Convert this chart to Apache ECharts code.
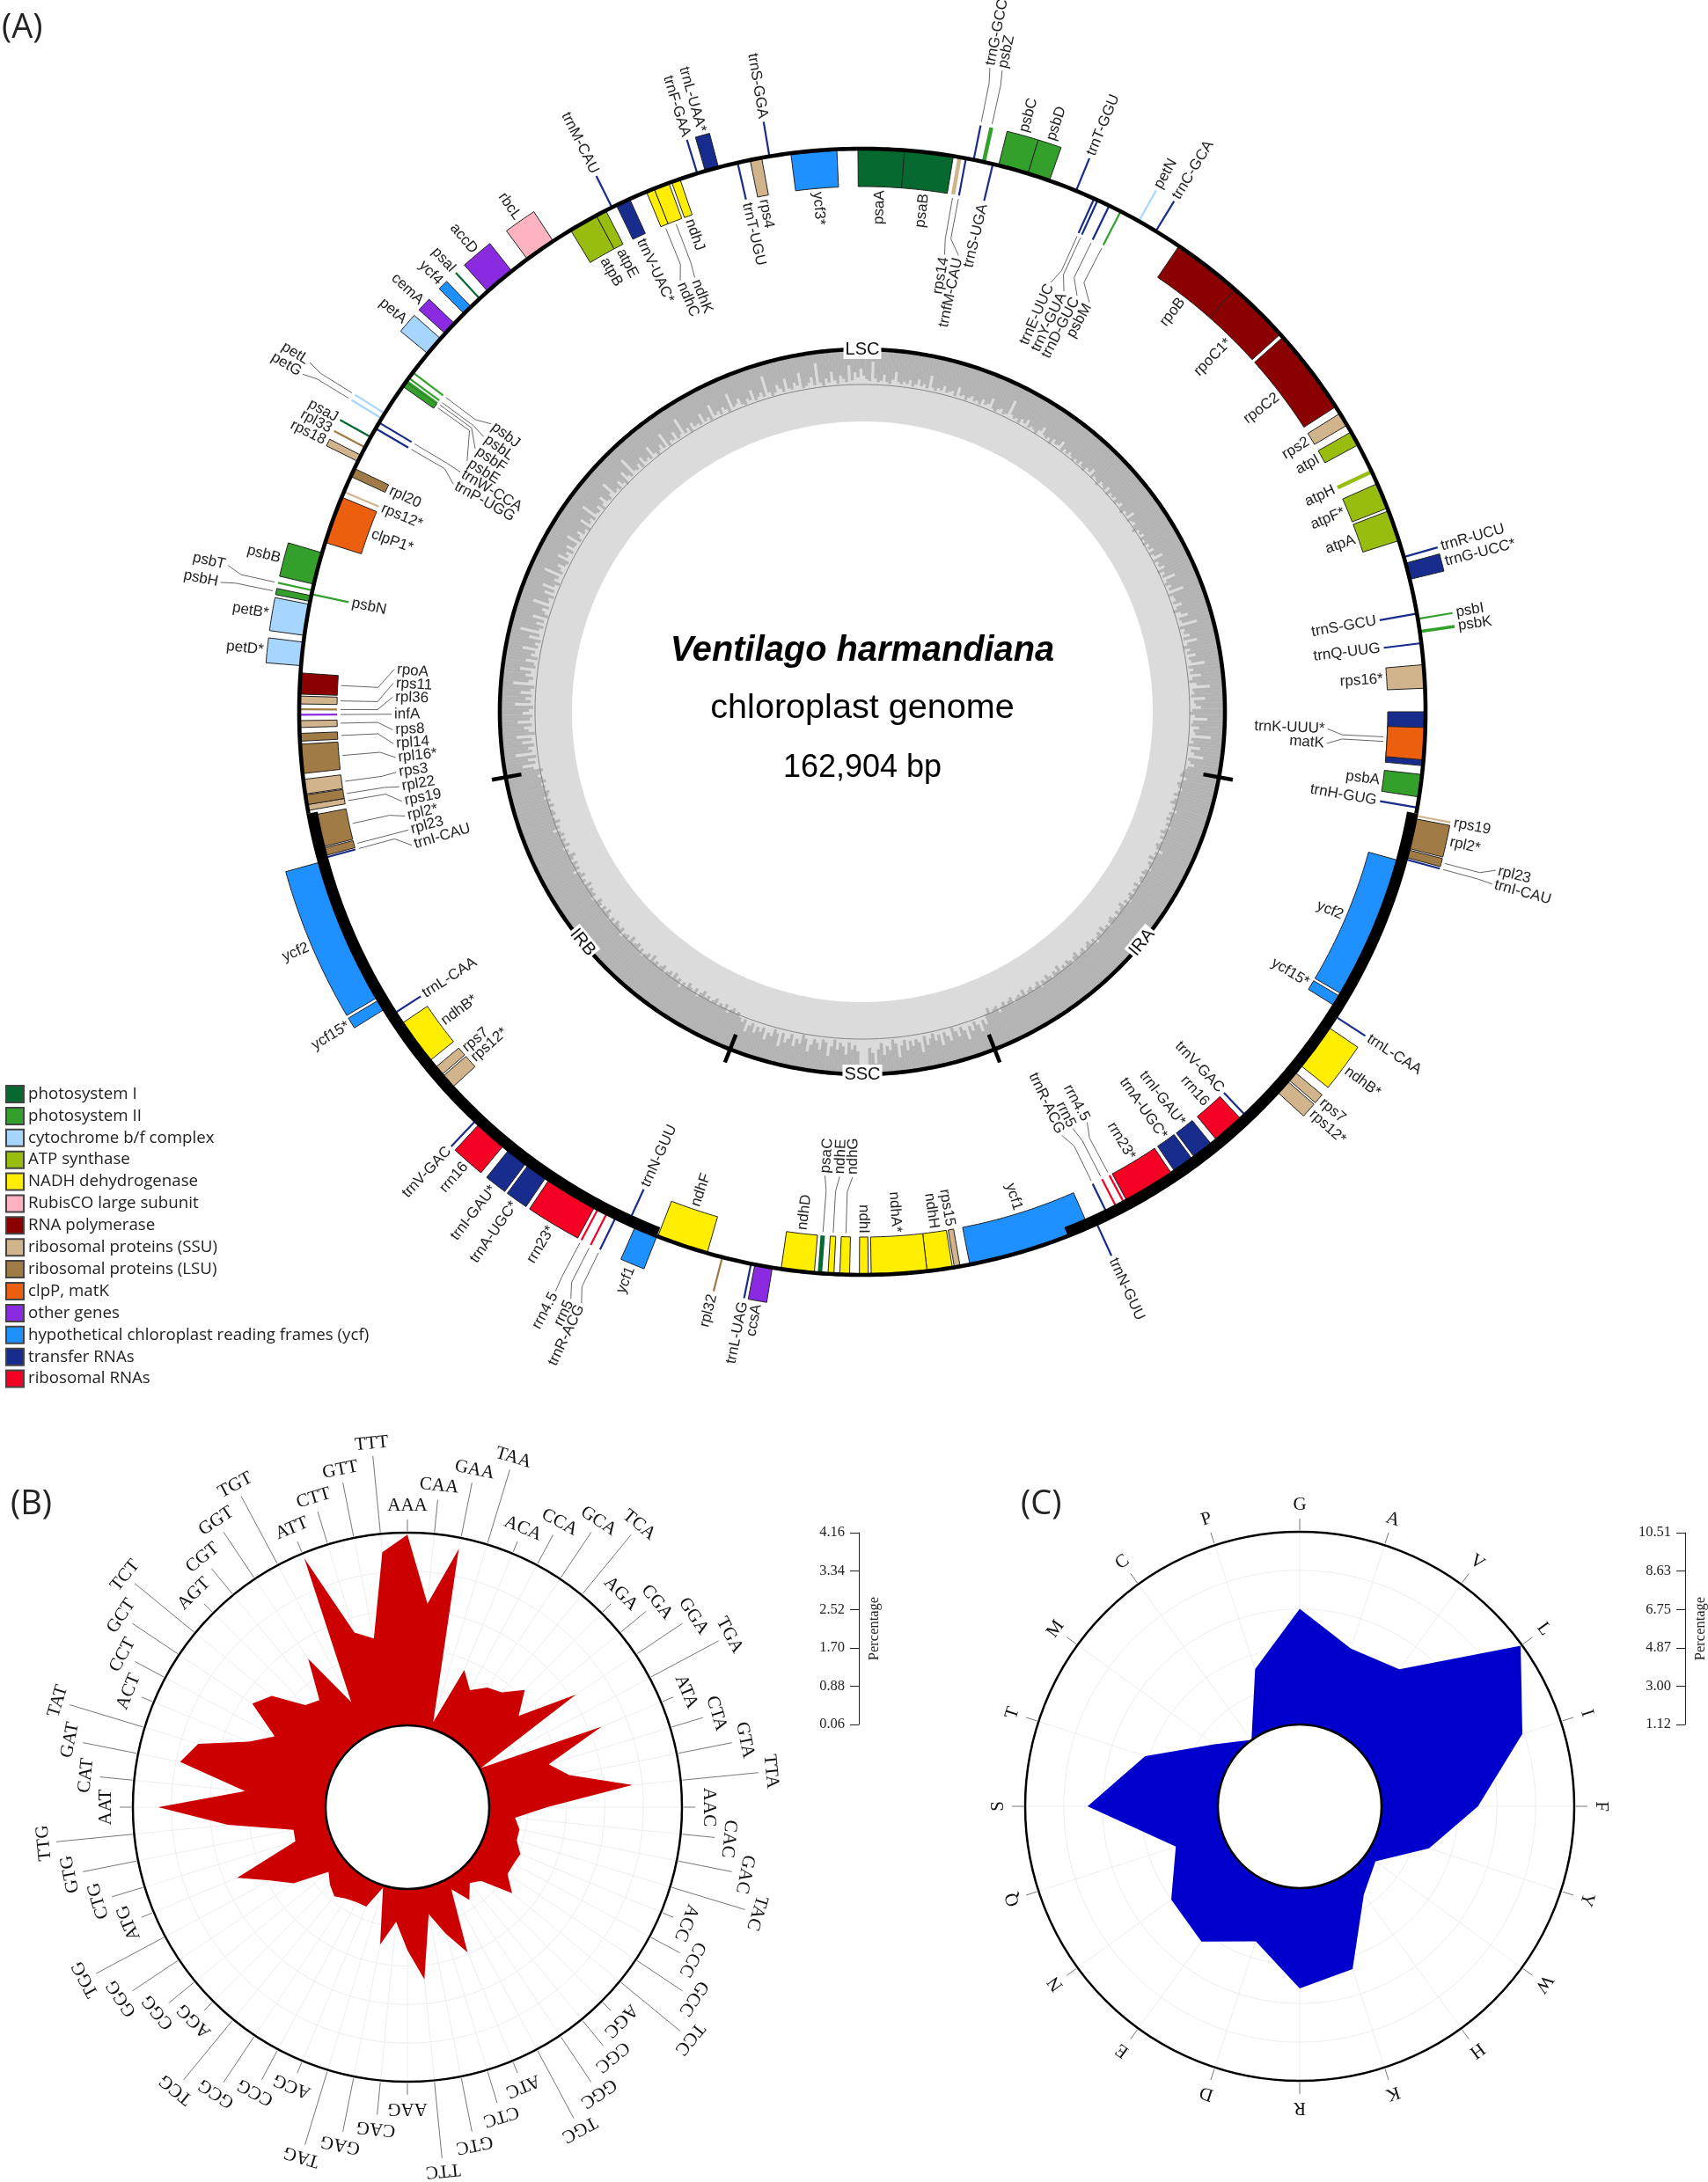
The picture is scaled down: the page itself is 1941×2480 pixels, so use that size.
<!DOCTYPE html>
<html><head><meta charset="utf-8"><style>html,body{margin:0;padding:0;background:#fff}#c{width:1941px;height:2480px}</style>
<script src="https://cdn.jsdelivr.net/npm/echarts@6/dist/echarts.min.js"></script></head><body><div id="c"></div>
<script>
/* ---------- Panel A: genes as [name, start, end, strand] on the map (degrees clockwise from top) ---------- */
const photosystemI=[['psaA',-0.45,4.3,-1],['psaB',4.3,9.3,-1],['psaC',184.05,184.6,-1],['psaJ',299.2,299.2,1],['psaI',317.2,317.2,1]];
const photosystemII=[['psbZ',12.2,12.7,1],['psbC',14,17.1,1],['psbD',17.1,19.4,1],['psbM',27.3,27.3,-1],['psbI',80.5,80.5,1],['psbK',81.6,82,1],['psbA',96.4,98.7,-1],['psbH',281.3,281.9,1],['psbN',282.05,282.05,-1],['psbT',282.45,282.45,1],['psbB',283.1,286.4,1],['psbE',305.3,305.9,-1],['psbF',306,306,-1],['psbL',306.35,306.35,-1],['psbJ',307.05,307.05,-1]];
const cytochrome=[['petN',29.4,29.4,1],['petD*',274.7,277.1,1],['petB*',277.8,281,1],['petG',301.4,301.4,1],['petL',302,302,1],['petA',309.5,311.5,1]];
const atpSynthase=[['atpI',60.2,61.7,-1],['atpH',64.5,65,-1],['atpF*',66.1,68.8,-1],['atpA',69.1,72.3,-1],['atpB',328.8,331.8,-1],['atpE',331.8,332.9,-1]];
const nadh=[['ndhB*',124.1,128.9,1],['ndhH',170.8,173.4,-1],['ndhA*',173.4,179.1,-1],['ndhI',179.4,180.3,-1],['ndhG',181.3,182.3,-1],['ndhE',182.9,183.5,-1],['ndhD',184.9,188.3,-1],['ndhF',196,201.3,-1],['ndhB*',231.1,235.9,-1],['ndhC',337.45,338.3,-1],['ndhK',338.3,339.9,-1],['ndhJ',340.2,341.1,-1]];
const rubisco=[['rbcL',323.5,326.7,1]];
const rnaPolymerase=[['rpoB',34.2,41.4,-1],['rpoC1*',41.4,47.9,-1],['rpoC2',48.3,57.2,-1],['rpoA',271.8,273.96,-1]];
const ribosomalSSU=[['rps14',9.7,10.2,-1],['rps2',58,59.4,-1],['rps16*',85.2,87.6,-1],['rps19',100.65,100.65,1],['rps7',129.8,130.8,1],['rps12*',131,132.5,1],['rps15',170,170.6,-1],['rps12*',227.5,229,-1],['rps7',229.2,230.2,-1],['rps19',259.9,260.5,-1],['rps3',261.6,263.1,-1],['rps8',268.4,269.1,-1],['rps11',270.8,271.6,-1],['rps12*',293,293,-1],['rps18',296.4,297.1,1],['rps4',348.5,349.7,-1]];
const ribosomalLSU=[['rpl2*',100.95,104.05,1],['rpl23',104.2,105,1],['rpl32',194.4,194.4,1],['rpl23',255,255.8,-1],['rpl2*',255.95,259.35,-1],['rpl22',260.5,261.5,-1],['rpl16*',263.7,266.7,-1],['rpl14',267,267.8,-1],['rpl36',270.25,270.25,-1],['rpl20',294.7,295.6,-1],['rpl33',298,298,1]];
const clpMatK=[['matK',91.6,94.9,-1],['clpP1*',287.5,292.4,-1]];
const otherGenes=[['ccsA',189.2,191,1],['infA',269.7,269.7,-1],['cemA',312.2,313.6,1],['accD',318.3,321.5,1]];
const ycfGenes=[['ycf2',105.5,120.5,-1],['ycf15*',120.8,121.9,-1],['ycf1',156.3,169,-1],['ycf1',201.4,203.8,1],['ycf15*',238.1,239.2,1],['ycf2',239.5,254.5,1],['ycf4',315,316,1],['ycf3*',352.7,357.4,-1]];
const transferRNAs=[['trnfM-CAU',10.6,10.6,-1],['trnG-GCC',11.4,11.4,1],['trnS-UGA',13.4,13.4,-1],['trnT-GGU',22.3,22.3,1],['trnE-UUC',24.3,24.3,-1],['trnY-GUA',24.7,24.7,-1],['trnD-GUC',26,26,-1],['trnC-GCA',31.4,31.4,1],['trnR-UCU',74.05,74.05,1],['trnG-UCC*',74.7,76.4,1],['trnS-GCU',79.95,79.95,-1],['trnQ-UUG',83,83,-1],['trnK-UUU*',90,95.5,-1],['trnH-GUG',99.8,99.8,-1],['trnI-CAU',105.2,105.2,1],['trnL-CAA',122.8,122.8,1],['trnV-GAC',136.5,136.5,-1],['trnI-GAU*',141.1,143.3,-1],['trnA-UGC*',143.6,145.8,-1],['trnR-ACG',154,154,-1],['trnN-GUU',155.4,155.4,1],['trnL-UAG',191.4,191.4,1],['trnN-GUU',204.6,204.6,-1],['trnR-ACG',206,206,1],['trnA-UGC*',214.2,216.4,1],['trnI-GAU*',216.7,218.9,1],['trnV-GAC',223.4,223.4,1],['trnL-CAA',237.2,237.2,-1],['trnI-CAU',254.8,254.8,-1],['trnP-UGG',300.2,300.2,-1],['trnW-CCA',300.9,300.9,-1],['trnM-CAU',333.6,333.6,1],['trnV-UAC*',334.1,335.6,-1],['trnF-GAA',342.95,342.95,1],['trnL-UAA*',343.8,345.2,1],['trnT-UGU',347.2,347.2,-1],['trnS-GGA',350.5,350.5,1]];
const ribosomalRNAs=[['rrn16',137.1,140.4,-1],['rrn23*',146.2,151.6,-1],['rrn4.5',151.95,151.95,-1],['rrn5',152.85,152.85,-1],['rrn5',207,207,1],['rrn4.5',208,208,1],['rrn23*',208.4,213.8,1],['rrn16',219.6,222.9,1]];

const functionalGroups=[
 ['photosystem I',photosystemI],['photosystem II',photosystemII],['cytochrome b/f complex',cytochrome],['ATP synthase',atpSynthase],
 ['NADH dehydrogenase',nadh],['RubisCO large subunit',rubisco],['RNA polymerase',rnaPolymerase],['ribosomal proteins (SSU)',ribosomalSSU],
 ['ribosomal proteins (LSU)',ribosomalLSU],['clpP, matK',clpMatK],['other genes',otherGenes],['hypothetical chloroplast reading frames (ycf)',ycfGenes],
 ['transfer RNAs',transferRNAs],['ribosomal RNAs',ribosomalRNAs]];

/* quadripartite structure, degrees on the map */
const regionNames=['LSC','IRA','SSC','IRB'];
const regionCentres=[0,129.5,180,230.5];
const regionBoundaries=[100.4,158.6,201.4,259.6];
/* dark (GC) depth per half degree */
const gcDepth=[
30,34,36,14,33,37,35,28,36,38,33,24,35,37,34,36,31,38,35,29,36,33,37,22,35,38,34,36,30,37,35,33,38,27,36,34,39,35,32,37,
35,38,31,36,34,26,37,39,35,33,38,36,18,34,37,35,39,33,36,30,38,35,37,40,34,28,36,38,35,41,33,37,36,29,39,35,38,34,37,40,
36,39,34,38,41,35,37,31,40,36,38,42,35,37,39,33,41,36,38,35,40,37,34,39,42,36,38,30,41,37,35,39,43,36,38,34,40,37,41,35,
38,33,40,36,27,39,35,37,31,41,34,38,24,36,39,33,37,21,40,35,34,38,29,36,41,33,26,37,35,18,39,34,36,30,38,23,35,40,33,37,
28,36,34,19,38,33,37,25,35,39,31,16,36,34,38,22,35,33,27,37,40,34,20,36,38,29,35,33,15,37,34,39,26,36,32,21,38,35,30,37,
39,42,44,36,41,45,43,38,42,46,40,44,47,41,43,37,45,42,46,40,44,38,43,47,41,45,39,42,46,44,35,43,41,47,40,45,42,38,44,46,
41,45,43,39,47,42,44,40,46,43,38,45,41,48,44,42,46,40,43,47,45,39,44,42,48,41,46,43,37,45,42,47,44,40,46,43,41,48,45,39,
44,47,42,45,41,49,43,46,40,44,48,42,45,38,47,43,41,46,44,40,48,42,45,43,39,47,44,41,46,42,36,45,43,40,47,41,
30,36,24,33,38,28,35,20,32,37,27,34,39,25,31,36,22,35,29,38,33,26,37,19,31,35,28,34,24,36,30,17,33,38,26,31,21,35,28,12,24,30,8,4,
10,26,33,28,36,22,31,35,27,38,30,19,34,37,25,32,36,29,21,35,39,28,33,24,37,31,26,36,20,34,38,29,32,23,36,30,35,27,37,33,25,38,34,
38,43,40,45,42,37,46,41,44,39,47,43,40,45,42,48,44,38,46,41,43,47,40,44,36,45,42,48,41,46,43,39,47,44,41,45,42,49,40,46,
43,38,45,41,47,44,42,48,40,45,43,37,46,42,44,47,41,45,39,43,48,42,46,40,44,47,41,38,45,43,46,42,48,40,44,41,47,43,36,45,
42,46,40,44,48,41,43,38,47,42,45,40,46,43,35,44,41,47,42,39,45,43,40,46,41,44,37,43,45,40,42,38,44,41,36,39,43,
33,21,36,28,38,15,34,30,37,24,35,18,39,32,27,36,20,34,37,26,33,38,17,35,29,36,23,34,38,14,31,36,27,33,20,37,35,25,38,30,
34,19,36,32,38,24,35,12,33,37,28,36,22,39,34,30,37,17,35,33,38,26,36,21,34,39,31,35,16,37,33,28,36,38,23,34,30,37,27,35,
36,22,38,34,29,37,35,40,25,36,33,38,18,35,37,31,39,34,27,36,38,33,20,37,35,39,30,36,41,26,34,38,16,35,37,32,39,28,36,34,
38,24,35,40,36,31,37,21,39,34,36,28,38,35,17,37,33,40,30,36,35,38,26,37,34,39,22,36,33,38,31,35,40,19,36,34,29,37,39,33,
36,25,38,35,31,37,14,34,39,36,28,33,38,23,35,37,30,34,20,38,36,33,27,37,12,35,39,31,36,24,34,38,29,33,37,18,35,26,32,22];

/* ---------- Panel B ---------- */
const codons=['AAA','CAA','GAA','TAA','ACA','CCA','GCA','TCA','AGA','CGA','GGA','TGA','ATA','CTA','GTA','TTA','AAC','CAC','GAC','TAC','ACC','CCC','GCC','TCC','AGC','CGC','GGC','TGC','ATC','CTC','GTC','TTC','AAG','CAG','GAG','TAG','ACG','CCG','GCG','TCG','AGG','CGG','GGG','TGG','ATG','CTG','GTG','TTG','AAT','CAT','GAT','TAT','ACT','CCT','GCT','TCT','AGT','CGT','GGT','TGT','ATT','CTT','GTT','TTT'];
const codonUsage=[4.12,2.67,3.92,0.21,1.48,1.14,1.38,1.48,1.85,1.38,2.63,0.09,2.79,1.46,1.83,3.13,1.29,0.62,0.75,0.75,0.92,0.88,0.88,1.20,0.535,0.41,0.69,0.30,1.66,1.13,0.64,2.0,1.36,0.77,1.30,0.11,0.61,0.61,0.66,0.77,0.65,0.49,1.23,1.63,2.24,0.81,0.79,2.16,3.62,1.79,3.25,2.97,1.96,1.52,2.29,2.05,1.39,1.27,2.12,0.85,4.05,2.2,1.98,3.77];
const codonTicks=[0.06,0.88,1.70,2.52,3.34,4.16];
/* ---------- Panel C ---------- */
const aminoAcids=['G','A','V','L','I','F','Y','W','H','K','R','D','E','N','Q','S','T','M','C','P'];
const aminoUsage=[6.76,5.21,5.39,10.44,8.54,5.82,3.76,1.70,2.45,5.47,6.01,4.05,5.28,4.87,3.48,7.47,5.05,2.27,1.13,4.16];
const aminoTicks=[1.12,3.00,4.87,6.75,8.63,10.51];

/* ---------- Layout and style (not data) ---------- */
const groupColors=['#06692F','#33A02C','#A6D5FF','#99BD0E','#FFEE00','#FFB3C1','#8B0000','#D2B48C','#A07B45','#EC5F0F','#8A2BE2','#1E90FF','#172C8C','#F50024'];
const SANS='"Liberation Sans",Arial,sans-serif', SERIF='"Liberation Serif","Times New Roman",serif';
const R_RING=640,R_OUT=680,R_IN=597,R_GC=412,R_GC_IN=330,R_GC_MID=372;
/* displaced labels: side-keyed gene -> [label angle, label radius] */
const displaced={'ndhC<':[337.1,529],'ndhK<':[338.9,526],'rps14>':[10.2,525],'trnfM-CAU>':[11.9,527],'trnG-GCC>':[11.2,749],'psbZ>':[12.3,749],
'trnE-UUC>':[23.7,530],'trnY-GUA>':[25.6,527],'trnD-GUC>':[27.3,529],'psbM>':[29,529],'trnK-UUU*>':[92.1,526],'matK>':[93.9,526],'rpl23>':[104.05,745],'trnI-CAU>':[105.3,745],
'rrn4.5>':[151.3,529],'rrn5>':[153.2,528],'trnR-ACG>':[154.8,529],'ndhG<':[181.2,526],'ndhE<':[182.8,526],'psaC<':[184.6,526],
'rrn4.5<':[207.9,748],'rrn5<':[206.4,748],'trnR-ACG<':[205.4,747],
'rpoA<':[275.2,531],'rps11<':[273.5,531],'rpl36<':[271.8,531],'infA<':[269.7,532],'rps8<':[267.8,531],'rpl14<':[266.1,531],'rpl16*<':[264.4,530],'rps3<':[262.6,531],'rpl22<':[260.8,530],'rps19<':[259,530],'rpl2*<':[257.15,530],'rpl23<':[255.4,530],'trnI-CAU<':[253.5,531],
'psbT<':[283,743],'psbH<':[281.4,747],'petL<':[302.3,746],'petG<':[301.1,746],
'psbJ<':[307.8,531],'psbL<':[306,529],'psbF<':[304.2,529],'psbE<':[302.4,529],'trnW-CCA<':[300.8,529],'trnP-UGG<':[299.1,529]};

function arc(api,r,a0,a1,step){const p=[];const s=step||0.5;for(let a=a0;a<a1;a+=s){const c=api.coord([r,a]);p.push([c[0],c[1]]);}const e=api.coord([r,a1]);p.push([e[0],e[1]]);return p;}
function xy(api,r,a){const c=api.coord([r,a]);return [c[0],c[1]];}

function geneRenderer(genes,color){
 return function(params,api){
  const g=genes[params.dataIndex];const a0=api.value(0),a1=api.value(1),side=api.value(2);
  const mid=(a0+a1)/2,name=g[0];const far=side>0?R_OUT:R_IN;
  const kids=[];
  if(a1-a0<0.55){
    kids.push({type:'polyline',shape:{points:[xy(api,R_RING,mid),xy(api,far,mid)]},style:{stroke:color,lineWidth:Math.max(2.2,(a1-a0)*9),fill:null}});
  }else{
    const pts=arc(api,far,a0,a1).concat(arc(api,R_RING,a0,a1).reverse());
    kids.push({type:'polygon',shape:{points:pts},style:{fill:color,stroke:'#222',lineWidth:1}});
  }
  const right=mid<180;
  const mv=displaced[name+(right?'>':'<')];
  const la=mv?mv[0]:mid, lr=mv?mv[1]:(side>0?684:593);
  if(mv){
    const s=side>0?1:-1;
    kids.push({type:'polyline',shape:{points:[xy(api,far+s*4,mid),xy(api,lr-s*20,mid),xy(api,lr-s*3,la)]},style:{stroke:'#666',lineWidth:1,fill:null}});
  }
  const p=xy(api,lr,la);
  const cw=right?la-90:la-270;
  const align=(side>0)===right?'left':'right';
  kids.push({type:'text',x:p[0],y:p[1],rotation:-cw*Math.PI/180,style:{text:name,fontFamily:SANS,fontSize:17,fill:'#222',align:align,verticalAlign:'middle'},z2:5});
  return {type:'group',children:kids};
 };
}

const series=[];
/* GC histogram */
series.push({type:'custom',coordinateSystem:'polar',polarIndex:0,silent:true,z:1,data:[[0]],
 renderItem:(params,api)=>({type:'polyline',shape:{points:arc(api,(R_GC+R_GC_IN)/2,0,360,1)},style:{stroke:'#DBDBDB',lineWidth:R_GC-R_GC_IN,fill:null}})});
series.push({type:'custom',coordinateSystem:'polar',polarIndex:0,silent:true,z:1,
 data:gcDepth.map((d,i)=>[d,i/2]),
 renderItem:(params,api)=>{const d=api.value(0),a=api.value(1);
  return {type:'polygon',shape:{points:[xy(api,R_GC,a),xy(api,R_GC,a+0.52),xy(api,R_GC-d,a+0.52),xy(api,R_GC-d,a)]},style:{fill:'#B3B3B3'}};}});
series.push({type:'custom',coordinateSystem:'polar',polarIndex:0,silent:true,z:1,data:[[0]],
 renderItem:(params,api)=>({type:'polyline',shape:{points:arc(api,R_GC_MID,0,360,1)},style:{stroke:'#858585',lineWidth:1,fill:null}})});
/* genes, one series per functional group */
functionalGroups.forEach((fg,i)=>{
 series.push({type:'custom',name:fg[0],coordinateSystem:'polar',polarIndex:0,silent:true,z:fg[1]===clpMatK?3:2,
  itemStyle:{color:groupColors[i]},
  data:fg[1].map(g=>({name:g[0],value:[g[1],g[2],g[3]]})),
  renderItem:geneRenderer(fg[1],groupColors[i])});
});
/* big ring: thin over LSC / SSC, thick over the IRs */
const b=regionBoundaries;
const ringSegs=[[b[3]-360,b[0],0],[b[0],b[1],1],[b[1],b[2],0],[b[2],b[3],1]];
series.push({type:'custom',coordinateSystem:'polar',polarIndex:0,silent:true,z:4,data:ringSegs,
 renderItem:(params,api)=>{const thick=api.value(2)===1;
  return {type:'polyline',shape:{points:arc(api,thick?635.8:R_RING,api.value(0),api.value(1),0.5)},style:{stroke:'#000',lineWidth:thick?13:4.6,fill:null}};}});
/* inner ring with boundaries and region names */
series.push({type:'custom',coordinateSystem:'polar',polarIndex:0,silent:true,z:4,data:[[0]],
 renderItem:(params,api)=>({type:'polyline',shape:{points:arc(api,R_GC,0,360,0.5)},style:{stroke:'#000',lineWidth:4.6,fill:null}})});
series.push({type:'custom',coordinateSystem:'polar',polarIndex:0,silent:true,z:4,data:regionBoundaries.map(a=>[a]),
 renderItem:(params,api)=>({type:'polyline',shape:{points:[xy(api,394,api.value(0)),xy(api,428,api.value(0))]},style:{stroke:'#000',lineWidth:4.5,fill:null}})});
series.push({type:'custom',coordinateSystem:'polar',polarIndex:0,silent:true,z:5,data:regionCentres.map(a=>[a]),
 renderItem:(params,api)=>{const a=api.value(0),p=xy(api,R_GC,a);const cw=(a>90&&a<270)?a-180:a;
  return {type:'text',x:p[0],y:p[1],rotation:-cw*Math.PI/180,style:{text:regionNames[params.dataIndex],fontFamily:SANS,fontSize:20,fill:'#111',align:'center',verticalAlign:'middle',backgroundColor:'#fff',padding:[1,2]}};}});

/* polar usage plots */
function usagePlot(polarIndex,cats,vals,color,labelR,lineR,fontSize){
 const n=cats.length;
 series.push({type:'line',coordinateSystem:'polar',polarIndex,silent:true,symbol:'none',z:2,
  data:vals.map((v,i)=>[v,i]).concat([[vals[0],n]]),lineStyle:{width:0},areaStyle:{color,opacity:1,origin:'start'}});
 series.push({type:'custom',coordinateSystem:'polar',polarIndex,silent:true,z:3,data:[[0]],
  renderItem:(params)=>{const c=params.coordSys;return {type:'group',children:[
    {type:'circle',shape:{cx:c.cx,cy:c.cy,r:c.r},style:{fill:null,stroke:'#000',lineWidth:2.5}},
    {type:'circle',shape:{cx:c.cx,cy:c.cy,r:c.r0},style:{fill:'#fff',stroke:'#000',lineWidth:2.5}}]};}});
 series.push({type:'custom',coordinateSystem:'polar',polarIndex,silent:true,z:3,
  data:cats.map((name,i)=>({name,value:[i]})),
  renderItem:(params,api)=>{
    const k=params.dataIndex,c=params.coordSys;
    const edge=api.coord([maxOf[polarIndex],k]);
    const at=r=>[c.cx+(edge[0]-c.cx)*r/c.r,c.cy+(edge[1]-c.cy)*r/c.r];
    const lvl=labelR.length>1?k%4:0;
    const p=at(labelR[lvl]);
    return {type:'group',children:[
     {type:'polyline',shape:{points:[at(c.r+2),at(lineR[lvl])]},style:{stroke:'#777',lineWidth:1,fill:null}},
     {type:'text',x:p[0],y:p[1],rotation:-(k*360/n)*Math.PI/180,style:{text:cats[k],fontFamily:SERIF,fontSize,fill:'#111',align:'center',verticalAlign:'middle'}}]};
  }});
}
const maxOf={1:codonTicks[5],2:aminoTicks[5]};
usagePlot(1,codons,codonUsage,'#CC0000',[343,367,391,415],[327,351,376,401],21);
usagePlot(2,aminoAcids,aminoUsage,'#0000CC',[343],[327],21);

function radialPair(idx,ticks,n){return {
  angle:{type:'value',polarIndex:idx,min:0,max:n,interval:1,startAngle:90,axisLine:{show:false},axisTick:{show:false},axisLabel:{show:false},splitLine:{show:true,lineStyle:{color:'#EDEDED',width:1}},z:1},
  radius:{type:'value',polarIndex:idx,min:ticks[0],max:ticks[5],axisLine:{show:false},axisTick:{show:false,customValues:ticks},axisLabel:{show:false,customValues:ticks},splitLine:{show:true,lineStyle:{color:'#EDEDED',width:1}},z:1}};}
const pB=radialPair(1,codonTicks,64),pC=radialPair(2,aminoTicks,20);
function scaleAxis(gridIndex,ticks){return {type:'value',gridIndex,position:'left',min:ticks[0],max:ticks[5],
  axisLine:{show:true,onZero:false,lineStyle:{color:'#222',width:1}},axisTick:{show:true,length:10,customValues:ticks,lineStyle:{color:'#222'}},
  axisLabel:{customValues:ticks,formatter:v=>v.toFixed(2),fontFamily:SERIF,fontSize:16.5,color:'#222',margin:16},splitLine:{show:false},
  name:'Percentage',nameLocation:'middle',nameRotate:90,nameGap:-26,nameMoveOverlap:false,nameTextStyle:{fontFamily:SERIF,fontSize:16.5,color:'#222'}};}

const chart=echarts.init(document.getElementById('c'),null,{renderer:'canvas',width:1941,height:2480});
chart.setOption({
 animation:false,backgroundColor:'#fff',
 legend:{orient:'vertical',left:6,top:1233,itemWidth:20,itemHeight:19,itemGap:3.89,icon:'rect',selectedMode:false,padding:0,
  data:functionalGroups.map(f=>f[0]),itemStyle:{borderColor:'#444',borderWidth:2},textStyle:{fontFamily:'"Open Sans"',fontSize:18.7,lineHeight:19,color:'#222'}},
 polar:[{center:[980,809],radius:[0,800]},{center:[463,2054],radius:[93,312]},{center:[1477,2053],radius:[93,312]}],
 angleAxis:[{type:'value',polarIndex:0,min:0,max:360,startAngle:90,show:false},pB.angle,pC.angle],
 radiusAxis:[{type:'value',polarIndex:0,min:0,max:800,show:false},pB.radius,pC.radius],
 grid:[{left:976,top:1742,width:2,height:218},{left:1915,top:1742,width:2,height:218}],
 xAxis:[{type:'value',gridIndex:0,show:false},{type:'value',gridIndex:1,show:false}],
 yAxis:[scaleAxis(0,codonTicks),scaleAxis(1,aminoTicks)],
 series,
 graphic:[
  {type:'text',left:2,top:13,style:{text:'(A)',fontFamily:'"Open Sans"',fontSize:38,fill:'#222'}},
  {type:'text',left:12,top:1691,style:{text:'(B)',fontFamily:'"Open Sans"',fontSize:38,fill:'#222'}},
  {type:'text',left:1160,top:1691,style:{text:'(C)',fontFamily:'"Open Sans"',fontSize:38,fill:'#222'}},
  {type:'text',x:980,y:740,z:20,style:{text:'Ventilago harmandiana',fontFamily:SANS,fontStyle:'italic',fontWeight:'bold',fontSize:39.8,fill:'#000',align:'center',verticalAlign:'middle'}},
  {type:'text',x:980,y:805,z:20,style:{text:'chloroplast genome',fontFamily:SANS,fontSize:39.6,fill:'#000',align:'center',verticalAlign:'middle'}},
  {type:'text',x:980,y:873,z:20,style:{text:'162,904 bp',fontFamily:SANS,fontSize:36,fill:'#000',align:'center',verticalAlign:'middle'}}
 ]
});
</script></body></html>
